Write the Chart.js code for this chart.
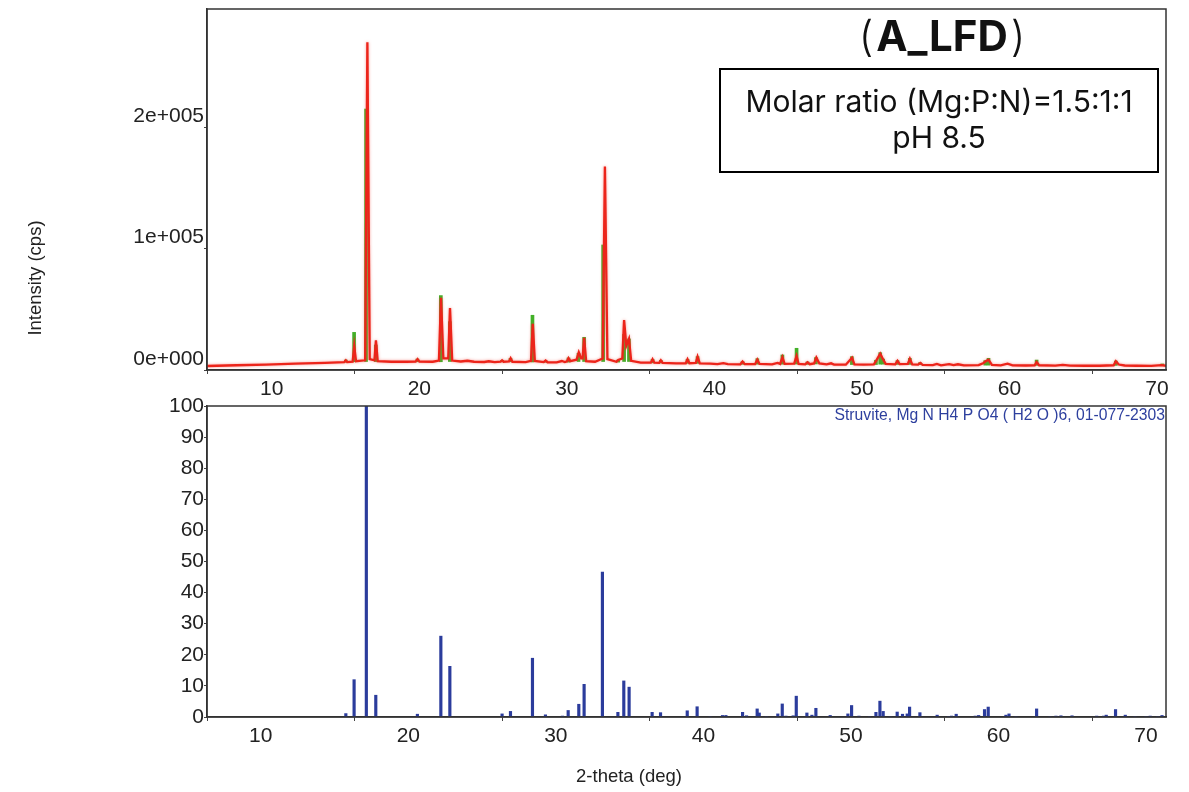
<!DOCTYPE html>
<html><head><meta charset="utf-8">
<script src="https://cdn.jsdelivr.net/npm/chart.js@4.4.1/dist/chart.umd.min.js"></script>
<style>
html,body{margin:0;padding:0;background:#fff;width:1189px;height:792px;overflow:hidden}
#top{position:absolute;left:0;top:0}
#bot{position:absolute;left:0;top:390px}
</style></head><body>
<canvas id="top" width="1189" height="400"></canvas>
<canvas id="bot" width="1189" height="402"></canvas>
<script>
// ---- data (2-theta in degrees, intensity in cps) ----
const xTickValues = [10, 20, 30, 40, 50, 60, 70];
const topYTickValues = [0, 100000, 200000];
const topYTickLabels = ['0e+000', '1e+005', '2e+005'];
const botYTickValues = [0, 10, 20, 30, 40, 50, 60, 70, 80, 90, 100];

// measured pattern (red)
const redTheta = [5,7,9,11,13,14.3,14.41,14.5,14.87,14.98,15.1,15.72,15.87,16.03,16.35,16.45,16.57,17.5,18.5,19.14,19.27,19.4,20.3,20.72,20.86,21.02,21.35,21.47,21.62,22.2,22.65,23.1,23.8,24.1,24.5,24.9,25.0,25.1,25.47,25.58,25.7,26.6,26.96,27.08,27.22,27.82,27.95,28.08,28.7,29.05,29.25,29.4,29.5,29.62,30.05,30.2,30.36,30.46,30.56,30.7,31.3,31.82,31.97,32.14,32.75,32.87,33.15,33.27,33.42,33.6,33.75,34.4,35.08,35.2,35.32,35.65,35.76,35.88,36.8,37.45,37.57,37.7,38.13,38.25,38.4,39.1,39.6,40.0,40.3,41.15,41.3,41.45,42.15,42.3,42.45,43.3,43.67,43.85,44.0,44.15,44.8,44.96,45.1,45.55,45.7,45.85,46.15,46.3,46.5,47.0,47.3,47.5,48.3,48.72,48.88,49.5,50.2,50.35,50.63,50.83,51.0,51.65,51.8,51.95,52.5,52.64,52.8,53.2,53.35,53.5,54.2,54.47,54.75,55.3,55.6,55.9,56.3,57.3,57.6,57.75,57.97,58.2,58.8,59.26,59.6,60.5,61.1,61.23,61.4,62.5,63.0,63.5,64.5,65.5,66.45,66.6,66.8,67.2,68.0,69.0,69.7,70];
const redCounts = [3300,3900,4500,5200,5900,6400,8000,6500,6800,19500,7200,8000,270000,9000,8000,24500,7300,6800,6800,6900,9000,6900,6800,7800,59500,9500,9500,51000,7800,7000,7600,6800,6600,7200,6500,6800,8000,6800,7000,9600,6800,6500,7500,38000,7500,6500,7800,6400,6300,7400,6600,7200,9800,7300,8500,14600,9500,9500,26500,7200,6800,9500,167600,9000,6800,8200,9500,41200,20000,25600,7500,6000,6000,8800,6000,5900,8000,5800,5500,5500,8800,5600,5800,11000,5400,5200,4900,5600,4800,4700,6900,4800,4800,8600,5000,4600,5800,5000,10500,5000,5200,11500,5000,4700,6400,4800,5400,10200,5500,4600,5500,4500,4400,10200,4700,4400,4600,7500,13500,8600,5000,4600,7500,4800,5000,9300,4600,4400,5800,4200,4000,5000,3900,4800,4000,4700,3800,4000,5500,7000,8500,4200,3800,5200,3800,3700,3800,6500,3900,3600,4200,3600,3500,3500,3900,7200,4500,3700,3500,3400,4000,3500];

// reference sticks scaled onto the measured pattern (green)
const greenTheta = [14.41,14.97,15.78,16.44,19.26,20.85,21.46,25.0,25.57,27.06,27.96,29.5,30.18,30.56,31.85,32.87,33.27,33.6,35.2,35.76,37.57,38.25,41.3,42.3,44.0,44.96,45.7,46.27,48.71,50.34,50.63,50.83,51.8,52.64,53.32,57.75,57.97,61.23,66.6,69.75];
const greenBase = [6400,6800,7000,7000,6800,6800,7000,6700,6800,6600,6400,6500,7000,7000,7000,6500,7000,7000,5900,5800,5500,5500,4700,4800,4800,4900,4600,5000,4500,4500,4800,4800,4600,4600,4400,4000,4000,3800,3800,3500];
const greenTop = [8200,31000,215000,20600,9000,61300,39800,8000,9600,45100,7400,9900,13800,26900,103000,8200,29400,25600,8800,8000,8800,11000,6900,9300,12400,17900,6600,10200,11000,8000,14300,9000,7700,9600,6000,7700,9600,8200,7400,5000];

// Struvite reference card 01-077-2303 (relative intensity %)
const refTheta = [14.41,14.97,15.80,16.44,19.26,20.85,21.46,25.0,25.57,27.06,27.94,29.09,29.48,30.2,30.56,31.80,32.85,33.25,33.61,35.17,35.74,37.55,38.22,39.1,39.94,40.17,41.3,41.57,42.29,42.43,42.92,43.69,43.99,44.24,44.73,44.94,45.66,46.0,46.27,47.24,48.44,48.69,49.19,49.91,50.34,50.61,50.83,51.31,51.78,52.14,52.46,52.62,53.32,54.49,55.26,55.46,55.78,57.07,57.3,57.7,57.95,59.15,59.36,59.83,61.23,62.14,62.54,62.88,63.63,65.3,65.77,65.95,66.58,67.24,67.9,68.64,68.93,69.43,69.73];
const refIntensity = [1.1,12.0,100,7.0,0.9,26.0,16.3,1.0,1.8,18.9,0.7,0.3,2.1,4.1,10.5,46.6,1.5,11.6,9.6,1.5,1.4,2.0,3.3,0.2,0.5,0.5,1.5,0.4,2.6,1.3,0.2,1.0,4.2,0.3,0.4,6.7,1.3,0.6,2.8,0.5,1.0,3.7,0.3,0.2,1.5,5.1,1.8,0.2,1.6,0.9,1.0,3.2,1.4,0.6,0.2,0.3,0.9,0.3,0.5,2.4,3.2,0.6,1.0,0.2,2.6,0.2,0.3,0.4,0.4,0.3,0.3,0.6,2.4,0.6,0.2,0.2,0.3,0.2,0.5];

const titleText = 'A_LFD';
const boxLines = ['Molar ratio (Mg:P:N)=1.5:1:1', 'pH 8.5'];
const refLabel = 'Struvite, Mg N H4 P O4 ( H2 O )6, 01-077-2303';
const yTitle = 'Intensity (cps)';
const xTitle = '2-theta (deg)';

// ---- styling ----
const tickFont = {family: "'Liberation Sans', Arial, sans-serif", size: 21};
const axisColor = '#333';

function xScale(labelOffset, height) {
  return {
    type: 'linear', min: 5, max: 70, offset: false,
    afterBuildTicks: s => { s.ticks = xTickValues.map(v => ({value: v})); },
    afterFit: s => { s.height = height; },
    grid: {display: true, drawOnChartArea: false, drawTicks: true, tickLength: 4, color: '#444', lineWidth: 1},
    border: {display: true, color: axisColor, width: 1.5},
    ticks: {font: tickFont, color: '#222', labelOffset: labelOffset, padding: 3, maxRotation: 0, autoSkip: false}
  };
}
function yScale(min, max, values, labels, labelOffset) {
  return {
    type: 'linear', min: min, max: max,
    afterBuildTicks: s => { s.ticks = values.map(v => ({value: v})); },
    afterFit: s => { s.width = 207; s.paddingTop = 0; s.paddingBottom = 0; },
    grid: {display: true, drawOnChartArea: false, drawTicks: true, tickLength: 3, color: '#444', lineWidth: 1},
    border: {display: true, color: axisColor, width: 1.5},
    ticks: {font: tickFont, color: '#222', labelOffset: labelOffset, padding: 0, autoSkip: false,
      callback: (v, i) => labels ? labels[i] : String(v)}
  };
}

const framePlugin = {
  id: 'frame',
  afterDraw(chart) {
    const a = chart.chartArea, ctx = chart.ctx;
    ctx.save();
    ctx.strokeStyle = axisColor; ctx.lineWidth = 1.5;
    ctx.strokeRect(a.left, a.top, a.right - a.left, a.bottom - a.top);
    ctx.restore();
  }
};
const glowPlugin = {
  id: 'glow',
  beforeDatasetDraw(chart, args) {
    if (args.meta.type === 'line') {
      chart.ctx.save();
      chart.ctx.shadowColor = 'rgba(240,70,60,0.55)';
      chart.ctx.shadowBlur = 3;
    }
  },
  afterDatasetDraw(chart, args) {
    if (args.meta.type === 'line') chart.ctx.restore();
  }
};
const topTextPlugin = {
  id: 'topText',
  afterDraw(chart) {
    const ctx = chart.ctx;
    ctx.save();
    // title (A_LFD)
    ctx.fillStyle = '#111';
    ctx.textBaseline = 'alphabetic';
    const boldF = "bold 42px Inter, 'Noto Sans', sans-serif";
    const parF = "300 42px Inter, 'Noto Sans', sans-serif";
    ctx.font = boldF; const wT = ctx.measureText(titleText).width;
    ctx.font = parF; const wP1 = ctx.measureText('(').width, wP2 = ctx.measureText(')').width;
    const total = wP1 + 3 + wT + 3 + wP2;
    let x = 942 - total / 2;
    const by = 51;
    ctx.font = parF; ctx.textAlign = 'left'; ctx.fillText('(', x, by); x += wP1 + 3;
    ctx.font = boldF; ctx.fillText(titleText, x, by); x += wT + 3;
    ctx.font = parF; ctx.fillText(')', x, by);
    // box
    ctx.fillStyle = '#fff';
    ctx.fillRect(720, 69, 438, 103);
    ctx.strokeStyle = '#000'; ctx.lineWidth = 2;
    ctx.strokeRect(720, 69, 438, 103);
    ctx.fillStyle = '#111';
    ctx.font = "30px Inter, 'Noto Sans', sans-serif";
    ctx.textAlign = 'center';
    ctx.fillText(boxLines[0], 939, 112);
    ctx.fillText(boxLines[1], 939, 148);
    // y axis title
    ctx.font = "18.5px 'Liberation Sans', Arial, sans-serif";
    ctx.fillStyle = '#222';
    ctx.translate(36, 278);
    ctx.rotate(-Math.PI / 2);
    ctx.textAlign = 'center'; ctx.textBaseline = 'middle';
    ctx.fillText(yTitle, 0, 0);
    ctx.restore();
  }
};
const botTextPlugin = {
  id: 'botText',
  afterDraw(chart) {
    const ctx = chart.ctx;
    ctx.save();
    ctx.fillStyle = '#2d3f9e';
    ctx.font = "15.7px 'Liberation Sans', Arial, sans-serif";
    ctx.textAlign = 'right'; ctx.textBaseline = 'middle';
    ctx.fillText(refLabel, 1165, 26);
    ctx.fillStyle = '#222';
    ctx.font = "18.5px 'Liberation Sans', Arial, sans-serif";
    ctx.textAlign = 'center';
    ctx.fillText(xTitle, 629, 387);
    ctx.restore();
  }
};

new Chart(document.getElementById('top'), {
  data: {
    datasets: [
      {type: 'line', label: 'measured', order: 1,
       data: redTheta.map((x, i) => ({x: x, y: redCounts[i]})),
       borderColor: 'rgb(236,36,26)', borderWidth: 2.3, pointRadius: 0, tension: 0},
      {type: 'bar', label: 'reference', order: 2, grouped: false,
       data: greenTheta.map((x, i) => ({x: x, y: [greenBase[i], greenTop[i]]})),
       backgroundColor: 'rgb(66,176,40)', barThickness: 3}
    ]
  },
  options: {
    responsive: false, animation: false, devicePixelRatio: 1,
    layout: {padding: {top: 9, right: 23, left: 0, bottom: 0}},
    plugins: {legend: {display: false}, tooltip: {enabled: false}},
    scales: {
      x: xScale(-9, 30),
      y: yScale(0, 297400, topYTickValues, topYTickLabels, -11)
    }
  },
  plugins: [glowPlugin, framePlugin, topTextPlugin]
});

new Chart(document.getElementById('bot'), {
  type: 'bar',
  data: {
    datasets: [
      {label: 'Struvite', data: refTheta.map((x, i) => ({x: x, y: refIntensity[i]})),
       backgroundColor: '#2b3c9c', barThickness: 2.5, grouped: false}
    ]
  },
  options: {
    responsive: false, animation: false, devicePixelRatio: 1,
    layout: {padding: {top: 16, right: 23, left: 0, bottom: 0}},
    plugins: {legend: {display: false}, tooltip: {enabled: false}},
    scales: {
      x: xScale(-20, 75),
      y: yScale(0, 100, botYTickValues, null, 0)
    }
  },
  plugins: [framePlugin, botTextPlugin]
});
</script>
</body></html>
